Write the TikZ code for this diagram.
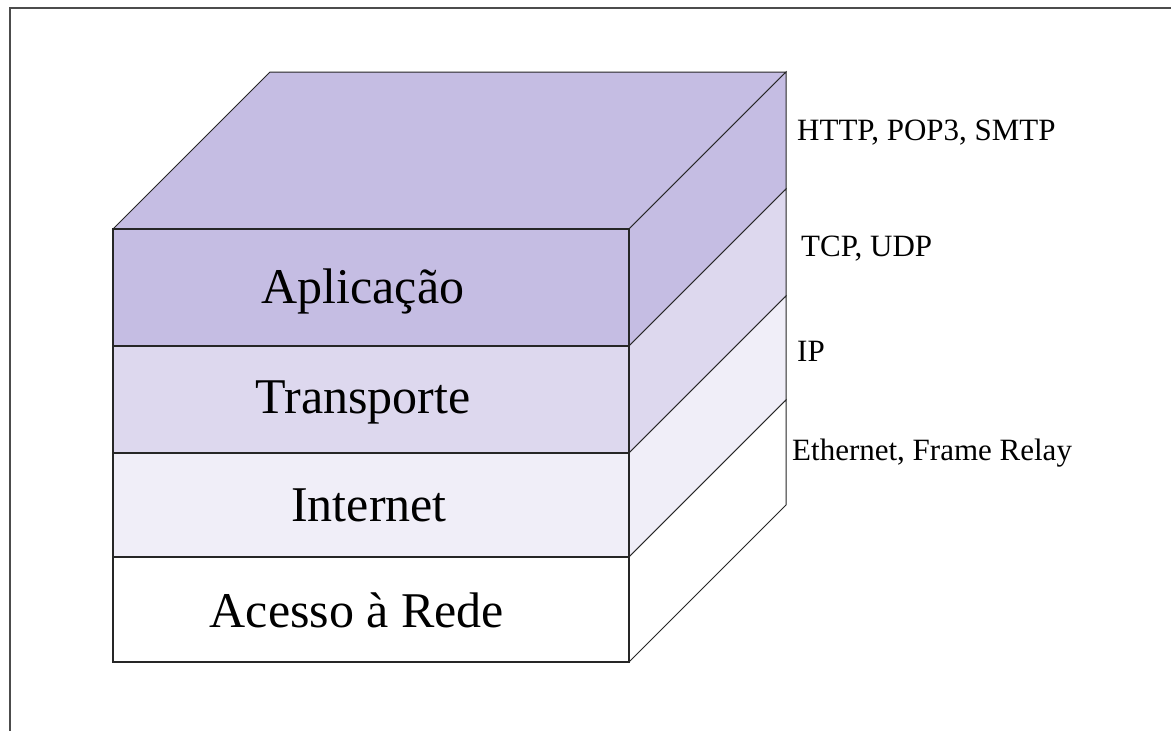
\documentclass[tikz,border=0pt]{standalone}
\usepackage{fontspec}
\setmainfont{Liberation Serif}
\usetikzlibrary{positioning, calc}
\definecolor{appcol}{RGB}{197,189,227}
\definecolor{transcol}{RGB}{221,216,238}
\definecolor{netcol}{RGB}{240,238,248}
\tikzset{
  frontface/.style={draw=black!85, line width=1.4pt},
  sideface/.style={draw=black!85, line width=1pt},
  layertext/.style={font=\fontsize{50}{60}\selectfont, inner sep=0pt, anchor=base},
  prototext/.style={font=\fontsize{31}{37}\selectfont, inner sep=0pt, anchor=base west},
}

\begin{document}
\begin{tikzpicture}[x=1pt, y=-1pt]
  \useasboundingbox (0,0) rectangle (1171,731);
  % Frame
  \draw[line width=2pt, black!70] (10,731) -- (10,8) -- (1171,8);

  % Top face
  \filldraw[sideface, fill=appcol] (113,229) -- (629,229) -- (786,72) -- (270,72) -- cycle;

  % Side faces
  \filldraw[sideface, fill=appcol] (629,229) -- (786,72) -- (786,189) -- (629,346) -- cycle;
  \filldraw[sideface, fill=transcol] (629,346) -- (786,189) -- (786,296) -- (629,453) -- cycle;
  \filldraw[sideface, fill=netcol] (629,453) -- (786,296) -- (786,400) -- (629,557) -- cycle;
  \filldraw[sideface, fill=white] (629,557) -- (786,400) -- (786,505) -- (629,662) -- cycle;

  % Front faces
  \filldraw[frontface, fill=appcol] (113,229) rectangle (629,346);
  \filldraw[frontface, fill=transcol] (113,346) rectangle (629,453);
  \filldraw[frontface, fill=netcol] (113,453) rectangle (629,557);
  \filldraw[frontface, fill=white] (113,557) rectangle (629,662);

  % Layer names
  \node[layertext] (app) at (363,303) {Aplicação};
  \node[layertext] (trans) at (363,413) {Transporte};
  \node[layertext] (inet) at (369,521) {Internet};
  \node[layertext] (acc) at (357,627) {Acesso à Rede};

  % Protocols
  \node[prototext] (httpl) at (797,140) {HTTP, POP3, SMTP};
  \node[prototext] (tcpl) at (801,256) {TCP, UDP};
  \node[prototext] (ipl) at (797,361) {IP};
  \node[prototext] (ethl) at (792,460) {Ethernet, Frame Relay};
\end{tikzpicture}
\end{document}
